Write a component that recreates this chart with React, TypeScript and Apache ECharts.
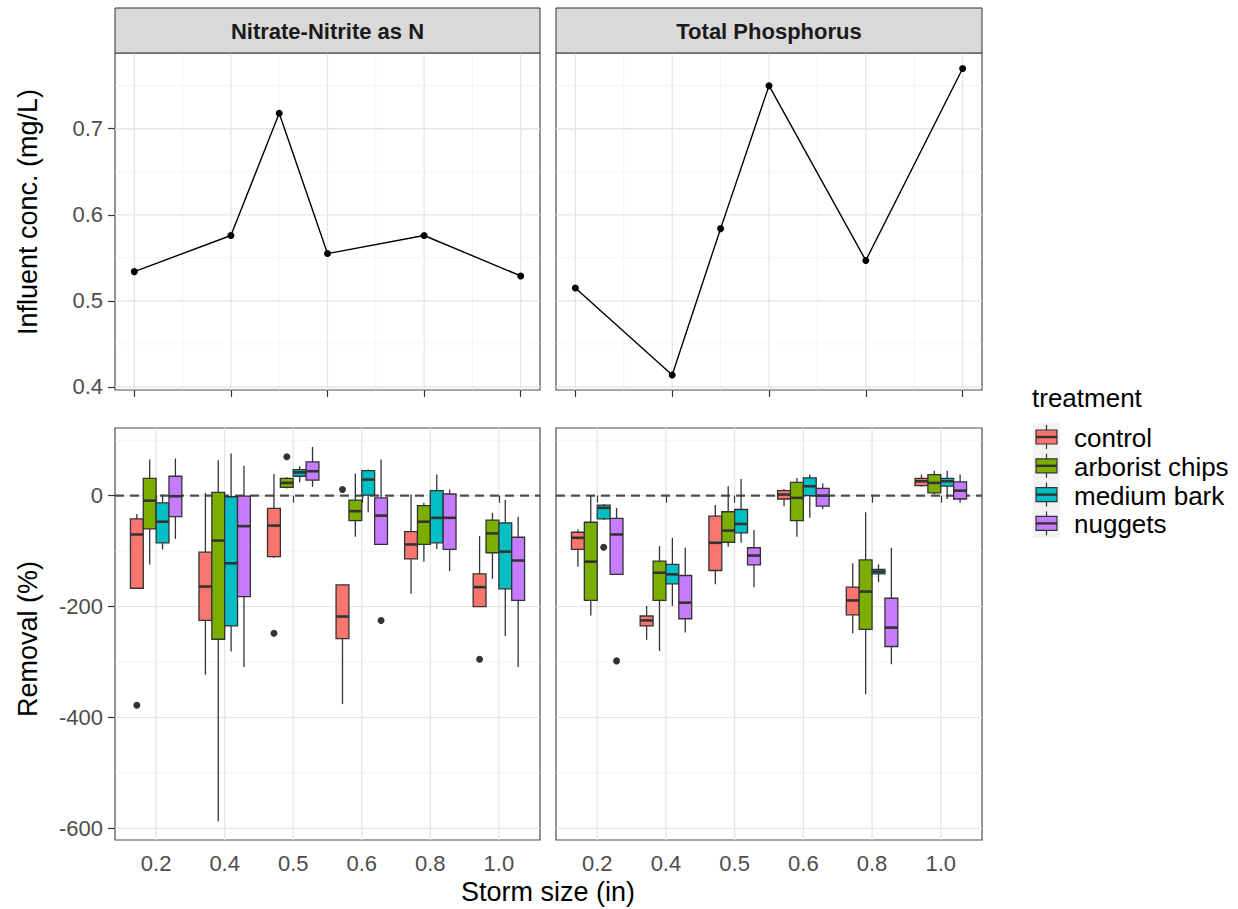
import React, { useEffect, useRef } from "react";
import * as echarts from "echarts";

// ---------- data ----------
const stormLabels = ["0.2", "0.4", "0.5", "0.6", "0.8", "1.0"];
const stormValues = [0.2, 0.4, 0.5, 0.6, 0.8, 1.0];
const facets = ["Nitrate-Nitrite as N", "Total Phosphorus"];
const treatments = ["control", "arborist chips", "medium bark", "nuggets"];
const treatmentColors = ["#F8766D", "#7CAE00", "#00BFC4", "#C77CFF"];

// influent concentration (mg/L) per storm size
const nitrateInfluent = [0.534, 0.576, 0.718, 0.555, 0.576, 0.529];
const phosphorusInfluent = [0.515, 0.414, 0.584, 0.75, 0.547, 0.77];

// removal (%) box stats per storm size: [low whisker, q1, median, q3, high whisker]
const nitrateControl = [[-168, -167, -70, -42, -33], [-323, -225, -164, -102, 5], [-112, -110, -54, -23, 39], [-376, -258, -218, -161, -160], [-177, -114, -88, -65, 2], [-200, -200, -165, -141, -73]];
const nitrateArborist = [[-124, -60, -9, 31, 65], [-587, -259, -81, 6, 64], [13, 15, 23, 31, 33], [-74, -45, -28, -8, 40], [-119, -88, -47, -18, -13], [-150, -103, -68, -44, -31]];
const nitrateMedium = [[-97, -85, -47, -13, 2], [-281, -235, -122, -2, 76], [24, 35, 42, 47, 53], [-30, 1, 29, 45, 47], [-96, -85, -40, 9, 38], [-253, -168, -101, -49, -8]];
const nitrateNuggets = [[-78, -38, -1, 35, 67], [-309, -182, -55, -1, 54], [16, 28, 44, 61, 88], [-88, -88, -36, -4, 65], [-136, -97, -40, 3, 11], [-309, -189, -117, -75, -38]];
// outliers: [storm index, treatment index, value]
const nitrateOutliers = [[0, 0, -378], [2, 1, 70], [2, 0, -248], [3, 0, 11], [3, 3, -225], [5, 0, -295]];

const phosControl = [[-128, -97, -76, -66, -61], [-260, -235, -225, -217, -199], [-160, -135, -85, -37, -17], [-19, -6, 2, 9, 12], [-248, -215, -189, -165, -122], [16, 18, 26, 31, 38]];
const phosArborist = [[-216, -189, -119, -48, 0], [-280, -189, -139, -118, -91], [-92, -84, -63, -29, 17], [-74, -45, -4, 24, 32], [-358, -241, -173, -116, -30], [2, 5, 23, 38, 45]];
const phosMedium = [[-44, -42, -22, -17, -15], [-199, -159, -142, -124, -76], [-85, -67, -51, -25, 30], [-40, 0, 17, 32, 38], [-156, -141, -137, -133, -124], [-6, 17, 26, 31, 45]];
const phosNuggets = [[-142, -142, -70, -41, -22], [-247, -222, -193, -144, -94], [-165, -125, -108, -94, -62], [-24, -19, 0, 13, 22], [-304, -272, -238, -185, -94], [-13, -6, 9, 25, 38]];
const phosOutliers = [[0, 2, -93], [0, 3, -298]];

const influentTicks = [0.4, 0.5, 0.6, 0.7];
const influentMinor = [0.45, 0.55, 0.65, 0.75];
const stormMajor = [0.2, 0.4, 0.6, 0.8, 1.0];
const stormMinor = [0.3, 0.5, 0.7, 0.9];
const removalTicks = [-600, -400, -200, 0];
const removalMinor = [-500, -300, -100, 100];

// ---------- styling ----------
const FONT = "'Liberation Sans', Arial, Helvetica, sans-serif";
const DODGE = [-0.28125, -0.09375, 0.09375, 0.28125];
const BOX_W = 0.1875;
const INK = "#333333";

const TOP_Y = [0.3965, 0.788];
const TOP_X = [0.16, 1.04];
const BOT_Y = [-621, 122];
const BOT_X = [0.4, 6.6];

const gridRects = [
  { left: 115, top: 53, width: 425, height: 337 },
  { left: 556, top: 53, width: 426, height: 337 },
  { left: 115, top: 428, width: 425, height: 412 },
  { left: 556, top: 428, width: 426, height: 412 },
];

function gridLineSeries(gi: number, xs: number[], ys: number[], xMin: number, yMin: number, color: string, width: number) {
  const data = [...xs.map((v) => [0, v]), ...ys.map((v) => [1, v])];
  return {
    type: "custom",
    xAxisIndex: gi,
    yAxisIndex: gi,
    silent: true,
    z: 0,
    data,
    renderItem: (params: any, api: any) => {
      const cs = params.coordSys;
      const kind = api.value(0);
      const v = api.value(1);
      if (kind === 0) {
        const px = api.coord([v, yMin])[0];
        return { type: "line", shape: { x1: px, y1: cs.y, x2: px, y2: cs.y + cs.height }, style: { stroke: color, lineWidth: width } };
      }
      const py = api.coord([xMin, v])[1];
      return { type: "line", shape: { x1: cs.x, y1: py, x2: cs.x + cs.width, y2: py }, style: { stroke: color, lineWidth: width } };
    },
  };
}

function zeroLineSeries(gi: number) {
  return {
    type: "custom",
    xAxisIndex: gi,
    yAxisIndex: gi,
    silent: true,
    z: 1,
    data: [[BOT_X[0], 0]],
    renderItem: (params: any, api: any) => {
      const cs = params.coordSys;
      const py = api.coord([api.value(0), api.value(1)])[1];
      return {
        type: "line",
        shape: { x1: cs.x, y1: py, x2: cs.x + cs.width, y2: py },
        style: { stroke: "#4D4D4D", lineWidth: 2.2, lineDash: [9, 6] },
      };
    },
  };
}

function boxSeries(gi: number, t: number, stats: number[][]) {
  const color = treatmentColors[t];
  const off = DODGE[t];
  return {
    type: "custom",
    name: treatments[t],
    xAxisIndex: gi,
    yAxisIndex: gi,
    z: 3,
    data: stats.map((s, i) => [i + 1, ...s]),
    renderItem: (params: any, api: any) => {
      const x = api.value(0) + off;
      const lo = api.coord([x, api.value(1)]);
      const q1 = api.coord([x, api.value(2)]);
      const md = api.coord([x, api.value(3)]);
      const q3 = api.coord([x, api.value(4)]);
      const hi = api.coord([x, api.value(5)]);
      const w = api.size([BOX_W, 0])[0];
      const ls = { stroke: INK, lineWidth: 1.3 };
      return {
        type: "group",
        children: [
          { type: "line", shape: { x1: hi[0], y1: hi[1], x2: q3[0], y2: q3[1] }, style: ls },
          { type: "line", shape: { x1: q1[0], y1: q1[1], x2: lo[0], y2: lo[1] }, style: ls },
          { type: "rect", shape: { x: q3[0] - w / 2, y: q3[1], width: w, height: Math.max(q1[1] - q3[1], 1) }, style: { fill: color, stroke: INK, lineWidth: 1.3 } },
          { type: "line", shape: { x1: md[0] - w / 2, y1: md[1], x2: md[0] + w / 2, y2: md[1] }, style: { stroke: INK, lineWidth: 2.6 } },
        ],
      };
    },
  };
}

function outlierSeries(gi: number, outliers: number[][]) {
  return {
    type: "scatter",
    xAxisIndex: gi,
    yAxisIndex: gi,
    z: 4,
    symbolSize: 7,
    itemStyle: { color: "#000000" },
    data: outliers.map((o) => [o[0] + 1 + DODGE[o[1]], o[2]]),
  };
}

function influentSeries(gi: number, vals: number[]) {
  return {
    type: "line",
    xAxisIndex: gi,
    yAxisIndex: gi,
    z: 3,
    symbol: "circle",
    symbolSize: 7,
    lineStyle: { color: "#000", width: 1.4 },
    itemStyle: { color: "#000" },
    data: stormValues.map((x, i) => [x, vals[i]]),
  };
}

const tickStyle = { show: true, length: 7, lineStyle: { color: INK, width: 1.2 } };
const labelStyle = { color: "#4D4D4D", fontSize: 22, fontFamily: FONT };

function buildOption() {
  const xAxis = [0, 1].map((gi) => ({
    gridIndex: gi,
    type: "value",
    min: TOP_X[0],
    max: TOP_X[1],
    axisLine: { show: false },
    axisTick: { ...tickStyle, customValues: stormMajor },
    axisLabel: { show: false },
    splitLine: { show: false },
  })).concat([2, 3].map((gi) => ({
    gridIndex: gi,
    type: "value",
    min: BOT_X[0],
    max: BOT_X[1],
    axisLine: { show: false },
    axisTick: { ...tickStyle, customValues: [1, 2, 3, 4, 5, 6] },
    axisLabel: { ...labelStyle, show: true, margin: 12, customValues: [1, 2, 3, 4, 5, 6], formatter: (v: number) => stormLabels[Math.round(v) - 1] },
    splitLine: { show: false },
  })) as any);

  const yAxis = [0, 1, 2, 3].map((gi) => {
    const top = gi < 2;
    const ticks = top ? influentTicks : removalTicks;
    const leftCol = gi % 2 === 0;
    return {
      gridIndex: gi,
      type: "value",
      min: top ? TOP_Y[0] : BOT_Y[0],
      max: top ? TOP_Y[1] : BOT_Y[1],
      axisLine: { show: false },
      axisTick: leftCol ? { ...tickStyle, customValues: ticks } : { show: false },
      axisLabel: leftCol
        ? { ...labelStyle, show: true, margin: 12, customValues: ticks, formatter: (v: number) => (top ? v.toFixed(1) : String(v)) }
        : { show: false },
      splitLine: { show: false },
    };
  });

  const series: any[] = [];
  [0, 1].forEach((gi) => {
    series.push(gridLineSeries(gi, stormMinor, influentMinor, TOP_X[0], TOP_Y[0], "#F1F1F1", 0.8));
    series.push(gridLineSeries(gi, stormMajor, influentTicks, TOP_X[0], TOP_Y[0], "#E6E6E6", 1.3));
  });
  [2, 3].forEach((gi) => {
    series.push(gridLineSeries(gi, [], removalMinor, BOT_X[0], BOT_Y[0], "#F1F1F1", 0.8));
    series.push(gridLineSeries(gi, [1, 2, 3, 4, 5, 6], removalTicks, BOT_X[0], BOT_Y[0], "#E6E6E6", 1.3));
    series.push(zeroLineSeries(gi));
  });
  series.push(influentSeries(0, nitrateInfluent));
  series.push(influentSeries(1, phosphorusInfluent));
  [nitrateControl, nitrateArborist, nitrateMedium, nitrateNuggets].forEach((s, t) => series.push(boxSeries(2, t, s)));
  [phosControl, phosArborist, phosMedium, phosNuggets].forEach((s, t) => series.push(boxSeries(3, t, s)));
  series.push(outlierSeries(2, nitrateOutliers));
  series.push(outlierSeries(3, phosOutliers));

  const graphic: any[] = [];
  // facet strips
  [0, 1].forEach((i) => {
    const g = gridRects[i];
    graphic.push({
      type: "rect",
      shape: { x: g.left, y: 8, width: g.width, height: 45 },
      style: { fill: "#D9D9D9", stroke: INK, lineWidth: 1 },
      z: 10,
    });
    graphic.push({
      type: "text",
      x: g.left + g.width / 2,
      y: 31,
      style: { text: facets[i], align: "center", verticalAlign: "middle", fontSize: 22, fontWeight: "bold", fontFamily: FONT, fill: "#1A1A1A" },
      z: 11,
    });
  });
  // axis titles
  graphic.push({
    type: "text", x: 28, y: 212, rotation: Math.PI / 2,
    style: { text: "Influent conc. (mg/L)", align: "center", verticalAlign: "middle", fontSize: 27, fontFamily: FONT, fill: "#000" },
  });
  graphic.push({
    type: "text", x: 28, y: 639, rotation: Math.PI / 2,
    style: { text: "Removal (%)", align: "center", verticalAlign: "middle", fontSize: 27, fontFamily: FONT, fill: "#000" },
  });
  graphic.push({
    type: "text", x: 548, y: 892,
    style: { text: "Storm size (in)", align: "center", verticalAlign: "middle", fontSize: 27, fontFamily: FONT, fill: "#000" },
  });
  // legend
  graphic.push({
    type: "text", x: 1032, y: 398,
    style: { text: "treatment", align: "left", verticalAlign: "middle", fontSize: 26, fontFamily: FONT, fill: "#000" },
  });
  treatments.forEach((name, i) => {
    const cy = 437 + i * 28.8;
    graphic.push({ type: "rect", shape: { x: 1033, y: cy - 14.4, width: 27, height: 28.8 }, style: { fill: "#F2F2F2" } });
    graphic.push({ type: "line", shape: { x1: 1046.5, y1: cy - 12, x2: 1046.5, y2: cy + 12 }, style: { stroke: INK, lineWidth: 1.2 } });
    graphic.push({ type: "rect", shape: { x: 1036, y: cy - 7, width: 21, height: 14 }, style: { fill: treatmentColors[i], stroke: INK, lineWidth: 1.2 } });
    graphic.push({ type: "line", shape: { x1: 1036, y1: cy, x2: 1057, y2: cy }, style: { stroke: INK, lineWidth: 2.4 } });
    graphic.push({
      type: "text", x: 1074, y: cy + 1,
      style: { text: name, align: "left", verticalAlign: "middle", fontSize: 26, fontFamily: FONT, fill: "#000" },
    });
  });

  return {
    animation: false,
    backgroundColor: "#ffffff",
    grid: gridRects.map((g) => ({ ...g, show: true, backgroundColor: "#ffffff", borderColor: "#4D4D4D", borderWidth: 1.2, containLabel: false })),
    xAxis,
    yAxis,
    series,
    graphic,
  };
}

export default function App() {
  const ref = useRef<HTMLDivElement>(null);
  useEffect(() => {
    if (!ref.current) return;
    const chart = echarts.init(ref.current, undefined, { renderer: "svg", width: 1238, height: 909 });
    chart.setOption(buildOption() as any);
    return () => chart.dispose();
  }, []);
  return <div ref={ref} style={{ position: "absolute", left: 0, top: 0, width: 1238, height: 909 }} />;
}
